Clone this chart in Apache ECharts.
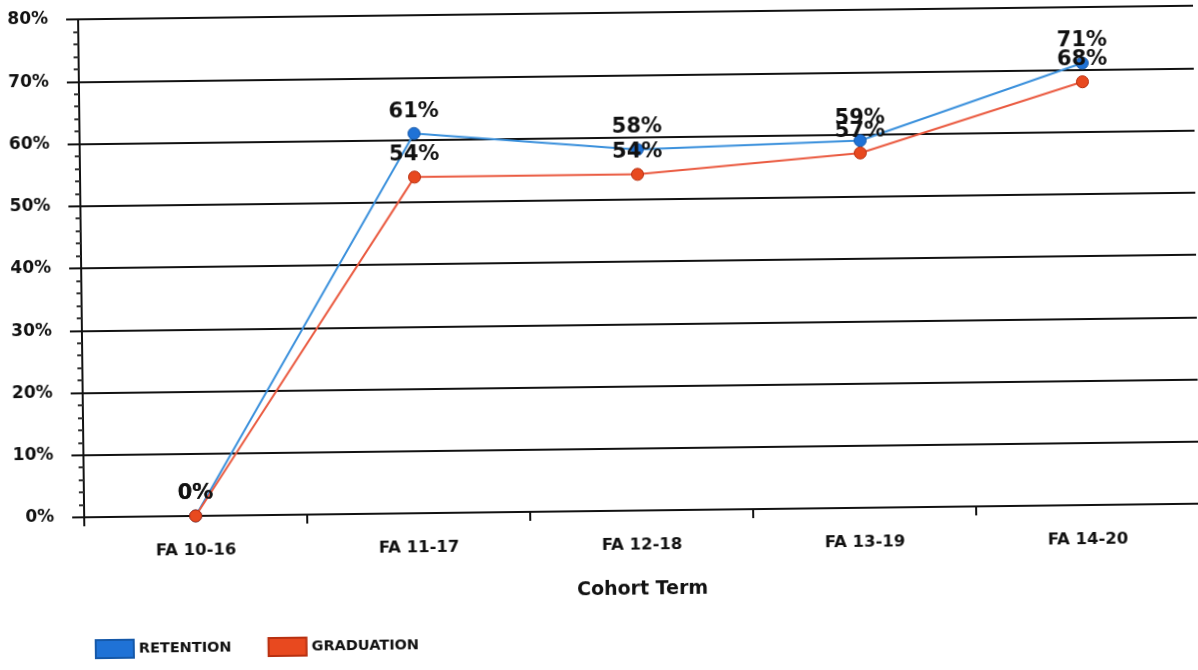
<!DOCTYPE html>
<html>
<head>
<meta charset="utf-8">
<script src="https://cdn.jsdelivr.net/npm/echarts@6/dist/echarts.min.js"></script>
<style>
html,body{margin:0;padding:0;background:#fff;overflow:hidden;}
#chart{width:1198px;height:670px;transform:rotate(-0.7deg);transform-origin:599px 335px;}
</style>
</head>
<body>
<div id="chart"></div>
<script>
var categories = ['FA 10-16', 'FA 11-17', 'FA 12-18', 'FA 13-19', 'FA 14-20'];
var retention = [0, 61, 58, 59, 71];
var graduation = [0, 54, 54, 57, 68];
var yTicks = { min: 0, max: 80, interval: 10 };

var FONT = '"DejaVu Sans", Verdana, sans-serif';
var chart = echarts.init(document.getElementById('chart'), null, { renderer: 'canvas' });
chart.setOption({
  backgroundColor: '#ffffff',
  animation: false,
  grid: { left: 82, right: 1, top: 13, bottom: 159, containLabel: false },
  legend: {
    left: 86, top: 628,
    itemWidth: 38, itemHeight: 18, itemGap: 36,
    icon: 'rect',
    textStyle: { fontFamily: FONT, fontWeight: 'bold', fontSize: 14.5, color: '#111' },
    data: ['RETENTION', 'GRADUATION']
  },
  xAxis: {
    type: 'category',
    data: categories,
    boundaryGap: true,
    name: 'Cohort Term',
    nameLocation: 'middle',
    nameGap: 70,
    nameTextStyle: { fontFamily: FONT, fontWeight: 'bold', fontSize: 19, color: '#111' },
    axisLine: { lineStyle: { color: '#111', width: 2 } },
    axisTick: { show: true, length: 9, lineStyle: { color: '#111', width: 2 } },
    axisLabel: { margin: 26, fontFamily: FONT, fontWeight: 'bold', fontSize: 16.5, color: '#111' },
    splitLine: { show: false }
  },
  yAxis: {
    type: 'value',
    min: yTicks.min, max: yTicks.max, interval: yTicks.interval,
    axisLine: { show: true, lineStyle: { color: '#111', width: 2 } },
    axisTick: { show: true, length: 12, lineStyle: { color: '#111', width: 2 } },
    minorTick: { show: true, splitNumber: 5, length: 5, lineStyle: { color: '#333', width: 2 } },
    axisLabel: { margin: 30, formatter: '{value}%', fontFamily: FONT, fontWeight: 'bold', fontSize: 17, color: '#111' },
    splitLine: { show: true, lineStyle: { color: '#111', width: 2 } }
  },
  series: [
    {
      name: 'RETENTION', type: 'line', data: retention,
      color: '#1a6fd4',
      symbol: 'circle', symbolSize: 12,
      lineStyle: { color: '#3a90dc', width: 2 },
      itemStyle: { color: '#1f72d6', borderColor: '#1558a8', borderWidth: 1 },
      label: { show: true, position: 'top', distance: 5, formatter: '{c}%', fontFamily: FONT, fontWeight: 'bold', fontSize: 21, color: '#111' },
      z: 3
    },
    {
      name: 'GRADUATION', type: 'line', data: graduation,
      color: '#f0541e',
      symbol: 'circle', symbolSize: 12,
      lineStyle: { color: '#ea5a40', width: 2 },
      itemStyle: { color: '#e8491f', borderColor: '#b83010', borderWidth: 1 },
      label: { show: true, position: 'top', distance: 5, formatter: '{c}%', fontFamily: FONT, fontWeight: 'bold', fontSize: 21, color: '#111' },
      z: 4
    }
  ]
});
</script>
</body>
</html>
